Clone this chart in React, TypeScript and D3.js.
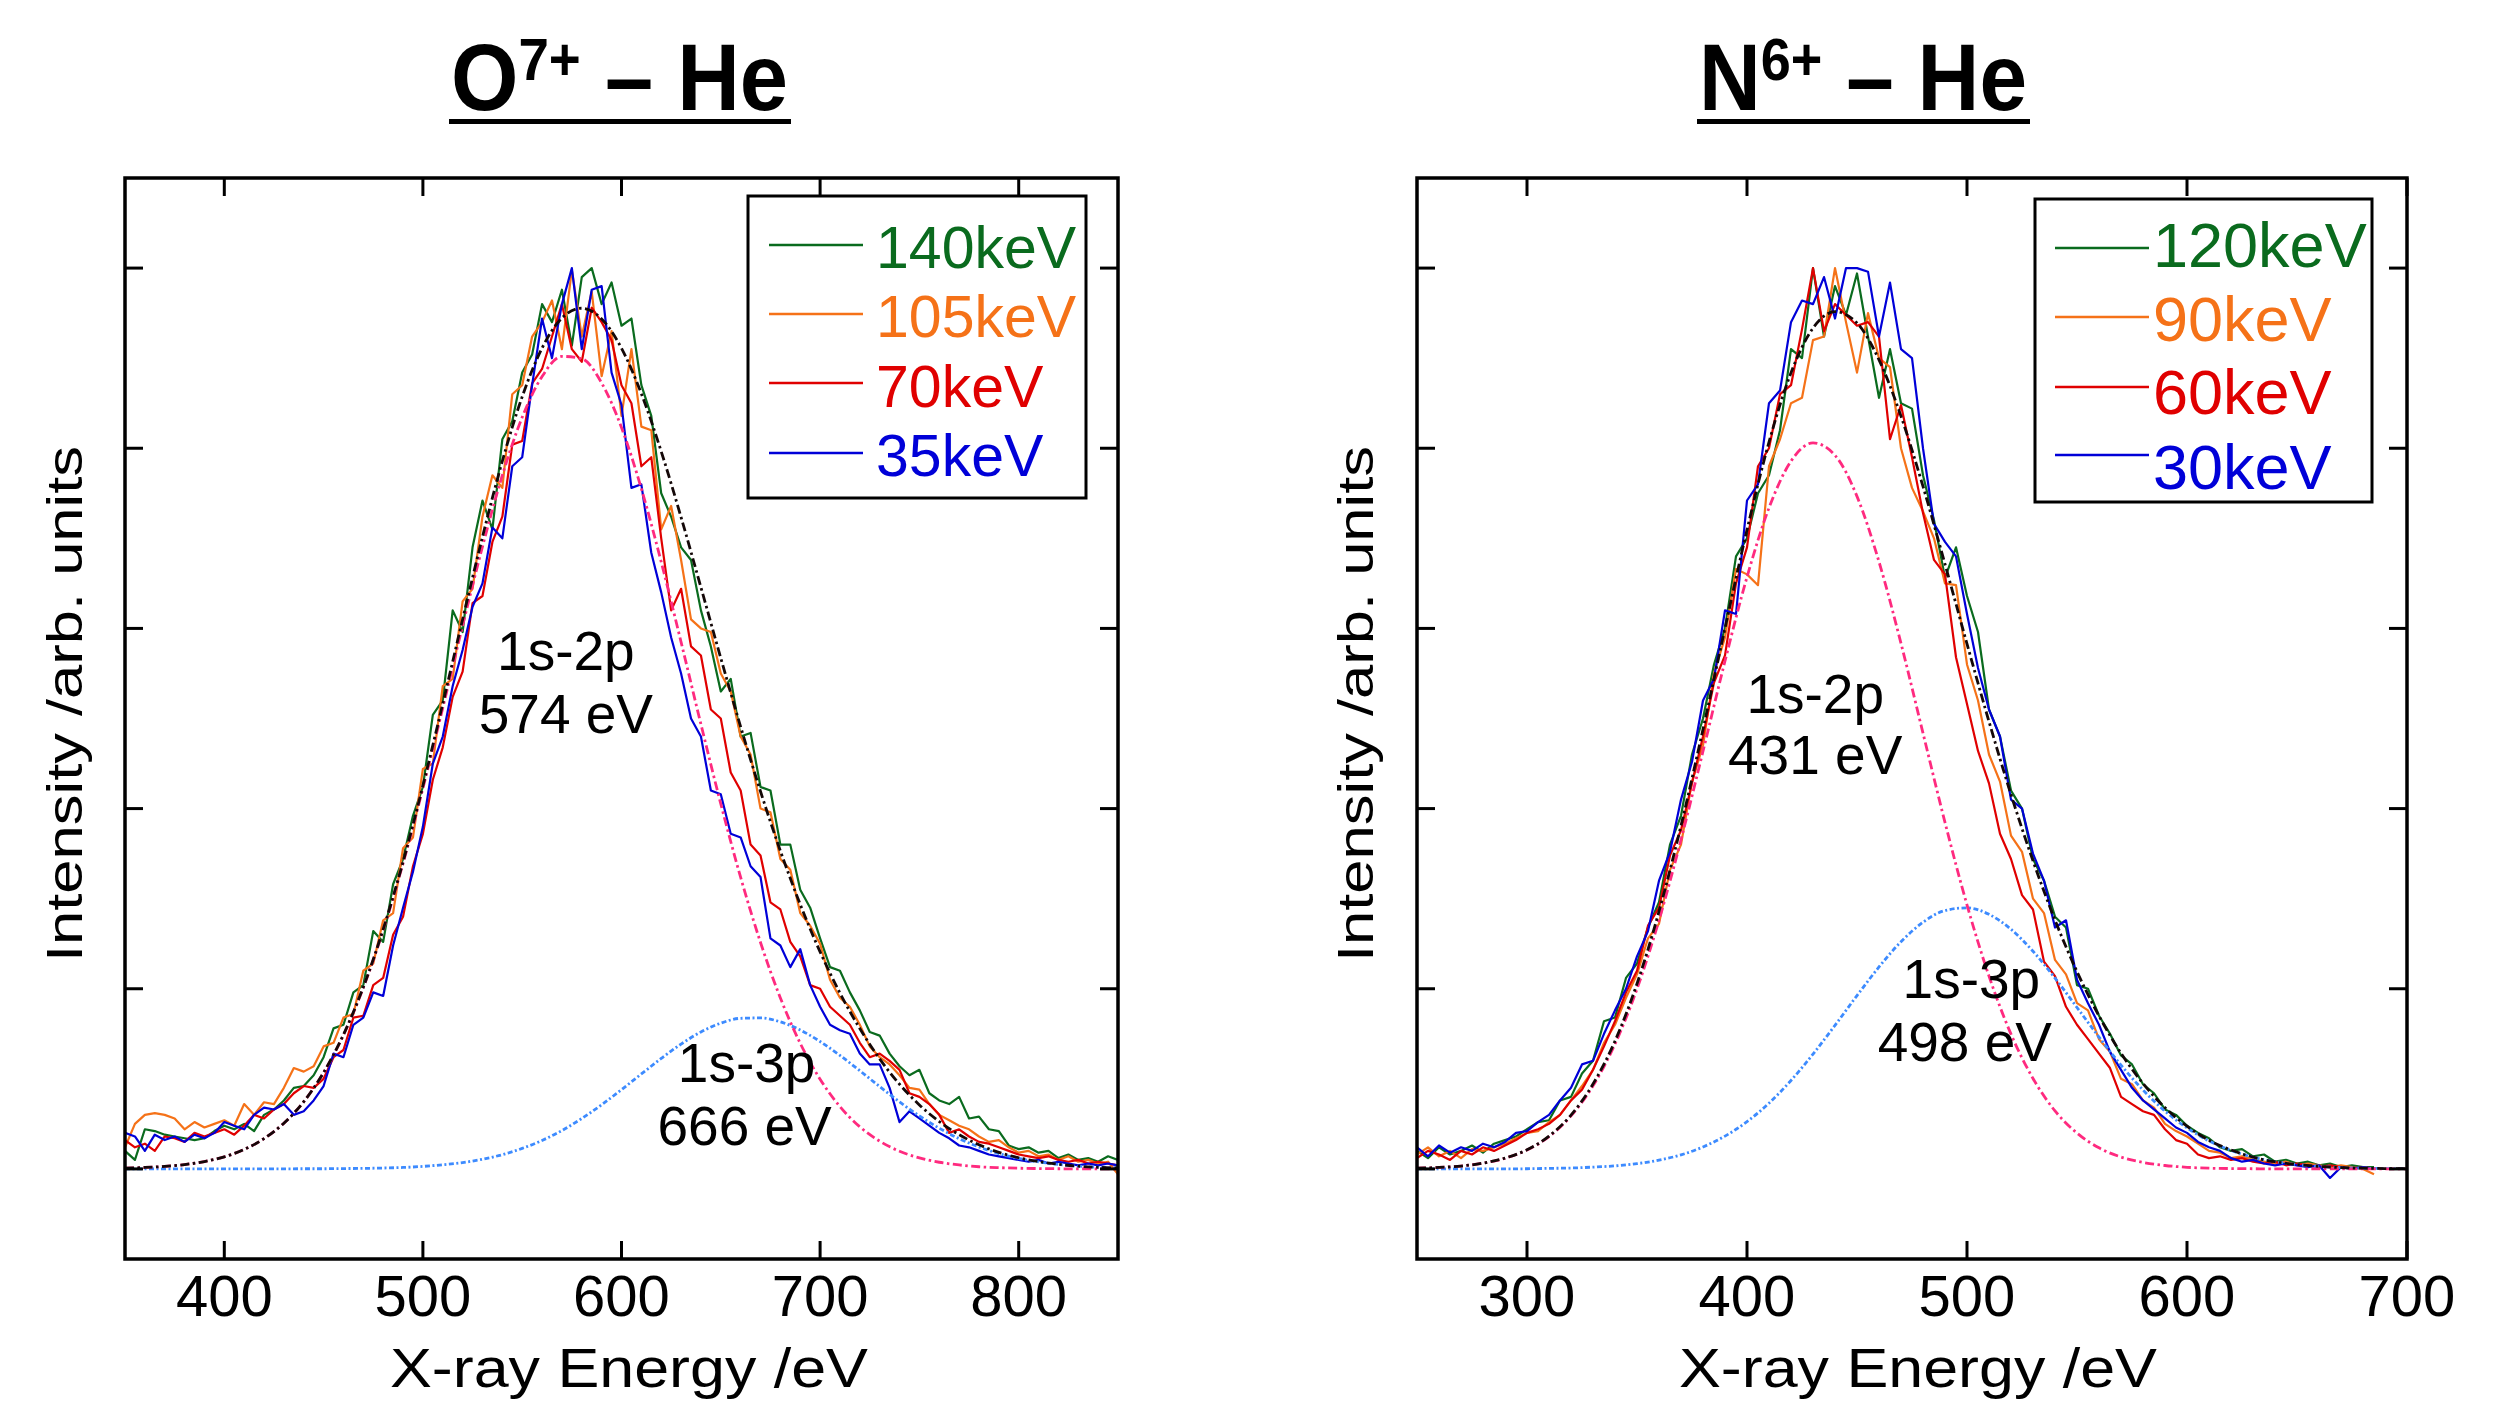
import React from "react";
import * as d3 from "d3";

const W = 2515;
const H = 1403;
const FONT = "'Liberation Sans', Arial, sans-serif";
const TITLE_FONT = "'Liberation Sans', Arial, sans-serif";

// ---- O7+ - He : measured spectra, 5 eV bins ----
const oEnergy = d3.range(350, 851, 5);
const o140 = [
  0.10, 0.05, 0.22, 0.21, 0.19, 0.18, 0.17, 0.16, 0.17, 0.21,
  0.24, 0.22, 0.25, 0.21, 0.30, 0.33, 0.38, 0.45, 0.46, 0.52,
  0.62, 0.78, 0.80, 0.98, 1.02, 1.32, 1.26, 1.58, 1.72, 1.96,
  2.12, 2.52, 2.60, 3.10, 2.98, 3.45, 3.71, 3.55, 4.05, 4.15,
  4.42, 4.52, 4.80, 4.70, 4.88, 4.57, 4.95, 5.00, 4.80, 4.92,
  4.68, 4.72, 4.35, 4.18, 3.75, 3.62, 3.45, 3.38, 3.10, 2.90,
  2.65, 2.72, 2.40, 2.42, 2.12, 2.10, 1.80, 1.80, 1.55, 1.45,
  1.28, 1.12, 1.10, 0.98, 0.88, 0.76, 0.74, 0.64, 0.57, 0.52,
  0.55, 0.42, 0.38, 0.36, 0.40, 0.28, 0.29, 0.22, 0.21, 0.13,
  0.11, 0.12, 0.09, 0.10, 0.06, 0.08, 0.05, 0.06, 0.04, 0.07,
  0.05,
];
const o105 = [
  0.12, 0.25, 0.30, 0.31, 0.30, 0.28, 0.22, 0.26, 0.23, 0.25,
  0.27, 0.24, 0.36, 0.30, 0.37, 0.36, 0.45, 0.56, 0.54, 0.57,
  0.68, 0.70, 0.84, 0.86, 1.10, 1.14, 1.38, 1.42, 1.78, 1.84,
  2.22, 2.25, 2.68, 2.72, 3.15, 3.22, 3.62, 3.85, 3.78, 4.30,
  4.35, 4.62, 4.70, 4.82, 4.55, 4.99, 4.62, 4.87, 4.40, 4.65,
  4.18, 4.55, 4.12, 4.10, 3.55, 3.68, 3.38, 3.05, 3.00, 2.98,
  2.75, 2.65, 2.40, 2.30, 2.00, 1.98, 1.72, 1.66, 1.42, 1.35,
  1.25, 1.05, 0.95, 0.90, 0.80, 0.68, 0.62, 0.58, 0.52, 0.45,
  0.44, 0.36, 0.30, 0.27, 0.24, 0.22, 0.18, 0.15, 0.16, 0.12,
  0.09, 0.10, 0.07, 0.08, 0.05, 0.07, 0.04, 0.05, 0.03, 0.04,
  -0.03,
];
const o70 = [
  0.16, 0.12, 0.14, 0.10, 0.18, 0.17, 0.15, 0.20, 0.18, 0.20,
  0.22, 0.19, 0.24, 0.30, 0.28, 0.33, 0.36, 0.42, 0.46, 0.45,
  0.50, 0.62, 0.66, 0.84, 0.85, 1.02, 1.06, 1.30, 1.40, 1.68,
  1.86, 2.16, 2.34, 2.62, 2.76, 3.14, 3.18, 3.48, 3.62, 4.02,
  4.04, 4.36, 4.44, 4.62, 4.80, 4.55, 4.48, 4.78, 4.70, 4.60,
  4.35, 4.25, 3.90, 3.95, 3.50, 3.10, 3.22, 2.90, 2.85, 2.55,
  2.50, 2.20, 2.10, 1.80, 1.74, 1.48, 1.44, 1.26, 1.18, 1.02,
  1.00, 0.90, 0.85, 0.80, 0.70, 0.62, 0.64, 0.60, 0.55, 0.42,
  0.40, 0.36, 0.30, 0.20, 0.22, 0.18, 0.15, 0.14, 0.12, 0.10,
  0.08, 0.07, 0.06, 0.07, 0.05, 0.04, 0.05, 0.03, 0.04, 0.03,
  0.02,
];
const o35 = [
  0.20, 0.18, 0.10, 0.19, 0.16, 0.18, 0.15, 0.19, 0.17, 0.20,
  0.26, 0.24, 0.22, 0.30, 0.34, 0.33, 0.36, 0.30, 0.32, 0.38,
  0.46, 0.64, 0.62, 0.80, 0.84, 0.98, 0.96, 1.24, 1.45, 1.65,
  1.90, 2.25, 2.40, 2.68, 2.88, 3.12, 3.25, 3.56, 3.50, 3.90,
  3.95, 4.35, 4.72, 4.50, 4.80, 5.00, 4.55, 4.88, 4.90, 4.42,
  4.24, 3.78, 3.80, 3.42, 3.20, 2.95, 2.75, 2.50, 2.40, 2.10,
  2.08, 1.86, 1.84, 1.68, 1.62, 1.28, 1.24, 1.12, 1.22, 1.02,
  0.90, 0.80, 0.77, 0.75, 0.64, 0.58, 0.58, 0.45, 0.26, 0.32,
  0.28, 0.24, 0.20, 0.17, 0.13, 0.12, 0.10, 0.08, 0.07, 0.06,
  0.05, 0.04, 0.05, 0.03, 0.04, 0.03, 0.02, 0.03, 0.02, 0.03,
  0.02,
];
// fitted components, 10 eV steps
const oFitEnergy = d3.range(350, 851, 10);
const oFit2p = [
  0.004, 0.008, 0.014, 0.024, 0.041, 0.067, 0.108, 0.168, 0.254, 0.373,
  0.534, 0.743, 1.006, 1.325, 1.696, 2.113, 2.559, 3.015, 3.454, 3.850,
  4.172, 4.398, 4.510, 4.497, 4.362, 4.115, 3.776, 3.369, 2.924, 2.468,
  2.026, 1.618, 1.257, 0.949, 0.697, 0.498, 0.346, 0.234, 0.154, 0.098,
  0.061, 0.037, 0.022, 0.012, 0.007, 0.004, 0.002, 0.001, 0, 0, 0,
];
const oFit3p = [
  0, 0, 0, 0, 0, 0, 0, 0, 0, 0.001,
  0.001, 0.002, 0.003, 0.005, 0.008, 0.014, 0.023, 0.035, 0.054, 0.079,
  0.114, 0.158, 0.213, 0.280, 0.356, 0.440, 0.527, 0.613, 0.693, 0.760,
  0.809, 0.836, 0.838, 0.816, 0.771, 0.707, 0.630, 0.545, 0.457, 0.372,
  0.294, 0.226, 0.168, 0.122, 0.085, 0.058, 0.039, 0.025, 0.015, 0.009, 0.005,
];
const oFitSum = [
  0.004, 0.008, 0.014, 0.024, 0.041, 0.067, 0.108, 0.168, 0.254, 0.373,
  0.535, 0.745, 1.009, 1.330, 1.704, 2.127, 2.582, 3.050, 3.508, 3.929,
  4.286, 4.556, 4.723, 4.777, 4.718, 4.555, 4.303, 3.982, 3.617, 3.228,
  2.835, 2.454, 2.095, 1.765, 1.468, 1.205, 0.976, 0.779, 0.611, 0.470,
  0.355, 0.263, 0.190, 0.134, 0.092, 0.062, 0.041, 0.026, 0.015, 0.009, 0.005,
];

// ---- N6+ - He : measured spectra, 5 eV bins ----
const nEnergy = d3.range(250, 686, 5);
const n120 = [
  0.10, 0.06, 0.12, 0.08, 0.10, 0.13, 0.09, 0.14, 0.16, 0.18,
  0.22, 0.26, 0.27, 0.38, 0.40, 0.53, 0.60, 0.82, 0.84, 1.06,
  1.14, 1.34, 1.48, 1.80, 1.96, 2.30, 2.50, 2.80, 3.00, 3.40,
  3.50, 3.75, 3.85, 4.10, 4.55, 4.50, 5.00, 4.62, 4.90, 4.74,
  4.97, 4.62, 4.28, 4.55, 4.25, 4.22, 3.85, 3.60, 3.28, 3.45,
  3.18, 2.98, 2.55, 2.40, 2.10, 2.00, 1.72, 1.60, 1.40, 1.34,
  1.02, 1.00, 0.85, 0.75, 0.63, 0.58, 0.47, 0.42, 0.33, 0.30,
  0.24, 0.20, 0.17, 0.12, 0.10, 0.11, 0.07, 0.08, 0.04, 0.05,
  0.03, 0.04, 0.02, 0.03, 0.01, 0.02, 0.01, 0.01,
];
const n90 = [
  0.08, 0.12, 0.07, 0.10, 0.06, 0.11, 0.10, 0.12, 0.14, 0.17,
  0.20, 0.21, 0.26, 0.30, 0.38, 0.46, 0.55, 0.70, 0.80, 0.95,
  1.08, 1.28, 1.36, 1.66, 1.80, 2.15, 2.35, 2.75, 2.95, 3.33,
  3.30, 3.24, 3.90, 4.05, 4.25, 4.28, 4.60, 4.62, 5.00, 4.70,
  4.42, 4.75, 4.50, 4.45, 4.00, 3.78, 3.65, 3.50, 3.25, 3.24,
  2.80, 2.60, 2.30, 2.15, 1.85, 1.76, 1.50, 1.42, 1.16, 1.08,
  0.92, 0.88, 0.72, 0.65, 0.50, 0.47, 0.38, 0.34, 0.25, 0.21,
  0.18, 0.14, 0.10, 0.09, 0.06, 0.07, 0.05, 0.04, 0.03, 0.04,
  0.02, 0.03, 0.02, 0.01, 0.02, 0.01, 0.00, -0.03,
];
const n60 = [
  0.06, 0.10, 0.08, 0.05, 0.10, 0.08, 0.12, 0.10, 0.13, 0.16,
  0.20, 0.22, 0.25, 0.30, 0.38, 0.44, 0.55, 0.68, 0.82, 0.98,
  1.10, 1.35, 1.45, 1.74, 1.88, 2.14, 2.40, 2.70, 2.85, 3.25,
  3.45, 3.90, 4.00, 4.30, 4.35, 4.66, 5.00, 4.65, 4.80, 4.74,
  4.68, 4.70, 4.62, 4.05, 4.24, 3.95, 3.64, 3.38, 3.30, 2.84,
  2.58, 2.32, 2.14, 1.86, 1.72, 1.52, 1.44, 1.15, 1.07, 0.90,
  0.80, 0.72, 0.64, 0.56, 0.40, 0.36, 0.32, 0.30, 0.22, 0.16,
  0.14, 0.08, 0.06, 0.07, 0.05, 0.06, 0.04, 0.03, 0.04, 0.02,
  0.03, 0.02, 0.01, 0.02, 0.01, 0.00, 0.01, 0.00,
];
const n30 = [
  0.12, 0.07, 0.13, 0.09, 0.12, 0.10, 0.14, 0.12, 0.15, 0.20,
  0.21, 0.26, 0.30, 0.38, 0.45, 0.58, 0.60, 0.75, 0.88, 1.00,
  1.18, 1.32, 1.60, 1.76, 2.05, 2.26, 2.60, 2.72, 3.10, 3.08,
  3.71, 3.80, 4.25, 4.32, 4.70, 4.82, 4.80, 4.95, 4.72, 5.00,
  5.00, 4.98, 4.62, 4.92, 4.55, 4.50, 4.00, 3.58, 3.48, 3.40,
  3.08, 2.78, 2.55, 2.40, 2.05, 2.00, 1.75, 1.60, 1.34, 1.38,
  1.05, 0.92, 0.80, 0.65, 0.55, 0.45, 0.38, 0.33, 0.28, 0.23,
  0.20, 0.15, 0.12, 0.10, 0.06, 0.04, 0.05, 0.03, 0.02, 0.03,
  0.02, 0.01, 0.02, -0.05, 0.01, 0.00, 0.01, 0.00,
];
const nFitEnergy = d3.range(250, 701, 10);
const nFit2p = [
  0.004, 0.008, 0.016, 0.032, 0.059, 0.105, 0.179, 0.294, 0.461, 0.693,
  0.999, 1.380, 1.827, 2.318, 2.819, 3.285, 3.669, 3.928, 4.030, 3.961,
  3.733, 3.370, 2.917, 2.419, 1.923, 1.465, 1.070, 0.748, 0.502, 0.322,
  0.199, 0.117, 0.066, 0.036, 0.019, 0.009, 0.004, 0.002, 0.001, 0,
  0, 0, 0, 0, 0, 0,
];
const nFit3p = [
  0, 0, 0, 0, 0, 0.001, 0.003, 0.005, 0.010, 0.017,
  0.029, 0.049, 0.078, 0.122, 0.182, 0.262, 0.365, 0.491, 0.637, 0.797,
  0.962, 1.121, 1.261, 1.369, 1.434, 1.449, 1.413, 1.330, 1.208, 1.059,
  0.896, 0.732, 0.576, 0.438, 0.321, 0.228, 0.155, 0.103, 0.065, 0.040,
  0.024, 0.014, 0.007, 0.004, 0.002, 0.001,
];
const nFitSum = [
  0.004, 0.008, 0.016, 0.032, 0.060, 0.106, 0.182, 0.299, 0.471, 0.710,
  1.028, 1.429, 1.905, 2.440, 3.001, 3.547, 4.034, 4.419, 4.667, 4.758,
  4.695, 4.491, 4.178, 3.788, 3.357, 2.914, 2.483, 2.078, 1.710, 1.381,
  1.095, 0.849, 0.642, 0.474, 0.340, 0.237, 0.159, 0.105, 0.065, 0.040,
  0.024, 0.014, 0.007, 0.004, 0.002, 0.001,
];

const yTicks = [0, 1, 2, 3, 4, 5];
const oTicks = [400, 500, 600, 700, 800];
const nTicks = [300, 400, 500, 600, 700];

const GREEN = "#0a6b1e";
const ORANGE = "#f57218";
const RED = "#e00000";
const BLUE = "#0000d8";

const panels = [
  {
    id: "o",
    ion: "O",
    charge: "7+",
    titleX: 451,
    titleW: 337,
    x0: 125,
    x1: 1118,
    domain: [350, 850],
    ticks: oTicks,
    energy: oEnergy,
    series: [
      { label: "140keV", color: GREEN, values: o140 },
      { label: "105keV", color: ORANGE, values: o105 },
      { label: "70keV", color: RED, values: o70 },
      { label: "35keV", color: BLUE, values: o35 },
    ],
    fitEnergy: oFitEnergy,
    fit2p: oFit2p,
    fit3p: oFit3p,
    fitSum: oFitSum,
    legend: { x: 748, y: 196, w: 338, h: 302, lx0: 769, lx1: 863, tx: 876, fs: 59, rows: [245, 314, 383, 453], base: [268, 337, 407, 476] },
    notes: [
      { text: "1s-2p", e: 572, v: 2.77 },
      { text: "574 eV", e: 572, v: 2.42 },
      { text: "1s-3p", e: 663, v: 0.48 },
      { text: "666 eV", e: 662, v: 0.13 },
    ],
    ylabX: 82,
    xlabX: 629,
  },
  {
    id: "n",
    ion: "N",
    charge: "6+",
    titleX: 1699,
    titleW: 328,
    x0: 1417,
    x1: 2407,
    domain: [250, 700],
    ticks: nTicks,
    energy: nEnergy,
    series: [
      { label: "120keV", color: GREEN, values: n120 },
      { label: "90keV", color: ORANGE, values: n90 },
      { label: "60keV", color: RED, values: n60 },
      { label: "30keV", color: BLUE, values: n30 },
    ],
    fitEnergy: nFitEnergy,
    fit2p: nFit2p,
    fit3p: nFit3p,
    fitSum: nFitSum,
    legend: { x: 2035, y: 199, w: 337, h: 303, lx0: 2055, lx1: 2149, tx: 2153, fs: 63, rows: [248, 317, 387, 455], base: [267, 341, 414, 489] },
    notes: [
      { text: "1s-2p", e: 431, v: 2.53 },
      { text: "431 eV", e: 431, v: 2.19 },
      { text: "1s-3p", e: 502, v: 0.95 },
      { text: "498 eV", e: 499, v: 0.60 },
    ],
    ylabX: 82 + 1291,
    xlabX: 1918,
  },
];

const TOP = 178;
const BOTTOM = 1259;
const TICK = 18;

function Panel({ p }) {
  const x = d3.scaleLinear().domain(p.domain).range([p.x0, p.x1]);
  const y = d3.scaleLinear().domain([-0.5, 5.5]).range([BOTTOM, TOP]);

  const dataLine = d3
    .line()
    .x((d, i) => x(p.energy[i]))
    .y((d) => y(d));
  const fitLine = d3
    .line()
    .x((d, i) => x(p.fitEnergy[i]))
    .y((d) => y(d))
    .curve(d3.curveMonotoneX);

  const lg = p.legend;
  return (
    <g>
      <defs>
        <clipPath id={"clip-" + p.id}>
          <rect x={p.x0} y={TOP} width={p.x1 - p.x0} height={BOTTOM - TOP} />
        </clipPath>
      </defs>

      {/* title */}
      <text
        x={p.titleX}
        y={110}
        fontFamily={TITLE_FONT}
        fontWeight="bold"
        fontSize={95}
        textLength={p.titleW}
        lengthAdjust="spacingAndGlyphs"
      >
        {p.ion}
        <tspan fontSize={60} dy={-30}>{p.charge}</tspan>
        <tspan dy={30}>{" \u2013 He"}</tspan>
      </text>
      <rect x={p.titleX - 2} y={119} width={p.titleW + 5} height={5} fill="#000" />

      <g clipPath={`url(#clip-${p.id})`}>
        {p.series.map((s) => (
          <path key={s.label} d={dataLine(s.values)} fill="none" stroke={s.color} strokeWidth={2.2} strokeLinejoin="round" />
        ))}
        <path d={fitLine(p.fit3p)} fill="none" stroke="#3d8bff" strokeWidth={2.8} strokeDasharray="5 2.5 2 2.5" />
        <path d={fitLine(p.fit2p)} fill="none" stroke="#ff2a7f" strokeWidth={2.8} strokeDasharray="9 3.5 2.5 3.5" />
        <path d={fitLine(p.fitSum)} fill="none" stroke="#140808" strokeWidth={2.8} strokeDasharray="9 3.5 2.5 3.5" />
      </g>

      {/* frame and ticks */}
      <rect x={p.x0} y={TOP} width={p.x1 - p.x0} height={BOTTOM - TOP} fill="none" stroke="#000" strokeWidth={3.5} />
      {p.ticks.map((t) => (
        <g key={"xt" + t} stroke="#000" strokeWidth={3}>
          <line x1={x(t)} x2={x(t)} y1={BOTTOM} y2={BOTTOM - TICK} />
          <line x1={x(t)} x2={x(t)} y1={TOP} y2={TOP + TICK} />
        </g>
      ))}
      {yTicks.map((t) => (
        <g key={"yt" + t} stroke="#000" strokeWidth={3}>
          <line x1={p.x0} x2={p.x0 + TICK} y1={y(t)} y2={y(t)} />
          <line x1={p.x1} x2={p.x1 - TICK} y1={y(t)} y2={y(t)} />
        </g>
      ))}
      {p.ticks.map((t) => (
        <text key={"xl" + t} x={x(t)} y={1316} textAnchor="middle" fontFamily={FONT} fontSize={58}>
          {t}
        </text>
      ))}

      {/* legend */}
      <rect x={lg.x} y={lg.y} width={lg.w} height={lg.h} fill="#fff" stroke="#000" strokeWidth={3} />
      {p.series.map((s, i) => (
        <g key={"lg" + s.label}>
          <line x1={lg.lx0} x2={lg.lx1} y1={lg.rows[i]} y2={lg.rows[i]} stroke={s.color} strokeWidth={2.4} />
          <text x={lg.tx} y={lg.base[i]} fill={s.color} fontFamily={FONT} fontSize={lg.fs}>
            {s.label}
          </text>
        </g>
      ))}

      {/* peak notes */}
      {p.notes.map((n) => (
        <text key={n.text} x={x(n.e)} y={y(n.v)} textAnchor="middle" fontFamily={FONT} fontSize={55}>
          {n.text}
        </text>
      ))}

      {/* axis labels */}
      <text
        transform={`translate(${p.ylabX},704) rotate(-90)`}
        textAnchor="middle"
        fontFamily={FONT}
        fontSize={50}
        textLength={516}
        lengthAdjust="spacingAndGlyphs"
      >
        Intensity /arb. units
      </text>
      <text
        x={p.xlabX}
        y={1387}
        textAnchor="middle"
        fontFamily={FONT}
        fontSize={55}
        textLength={478}
        lengthAdjust="spacingAndGlyphs"
      >
        X-ray Energy /eV
      </text>
    </g>
  );
}

export default function App() {
  return (
    <div style={{ position: "fixed", left: 0, top: 0, width: W, height: H, background: "#fff" }}>
      <svg width={W} height={H} viewBox={`0 0 ${W} ${H}`}>
        <rect width={W} height={H} fill="#fff" />
        {panels.map((p) => (
          <Panel key={p.id} p={p} />
        ))}
      </svg>
    </div>
  );
}
